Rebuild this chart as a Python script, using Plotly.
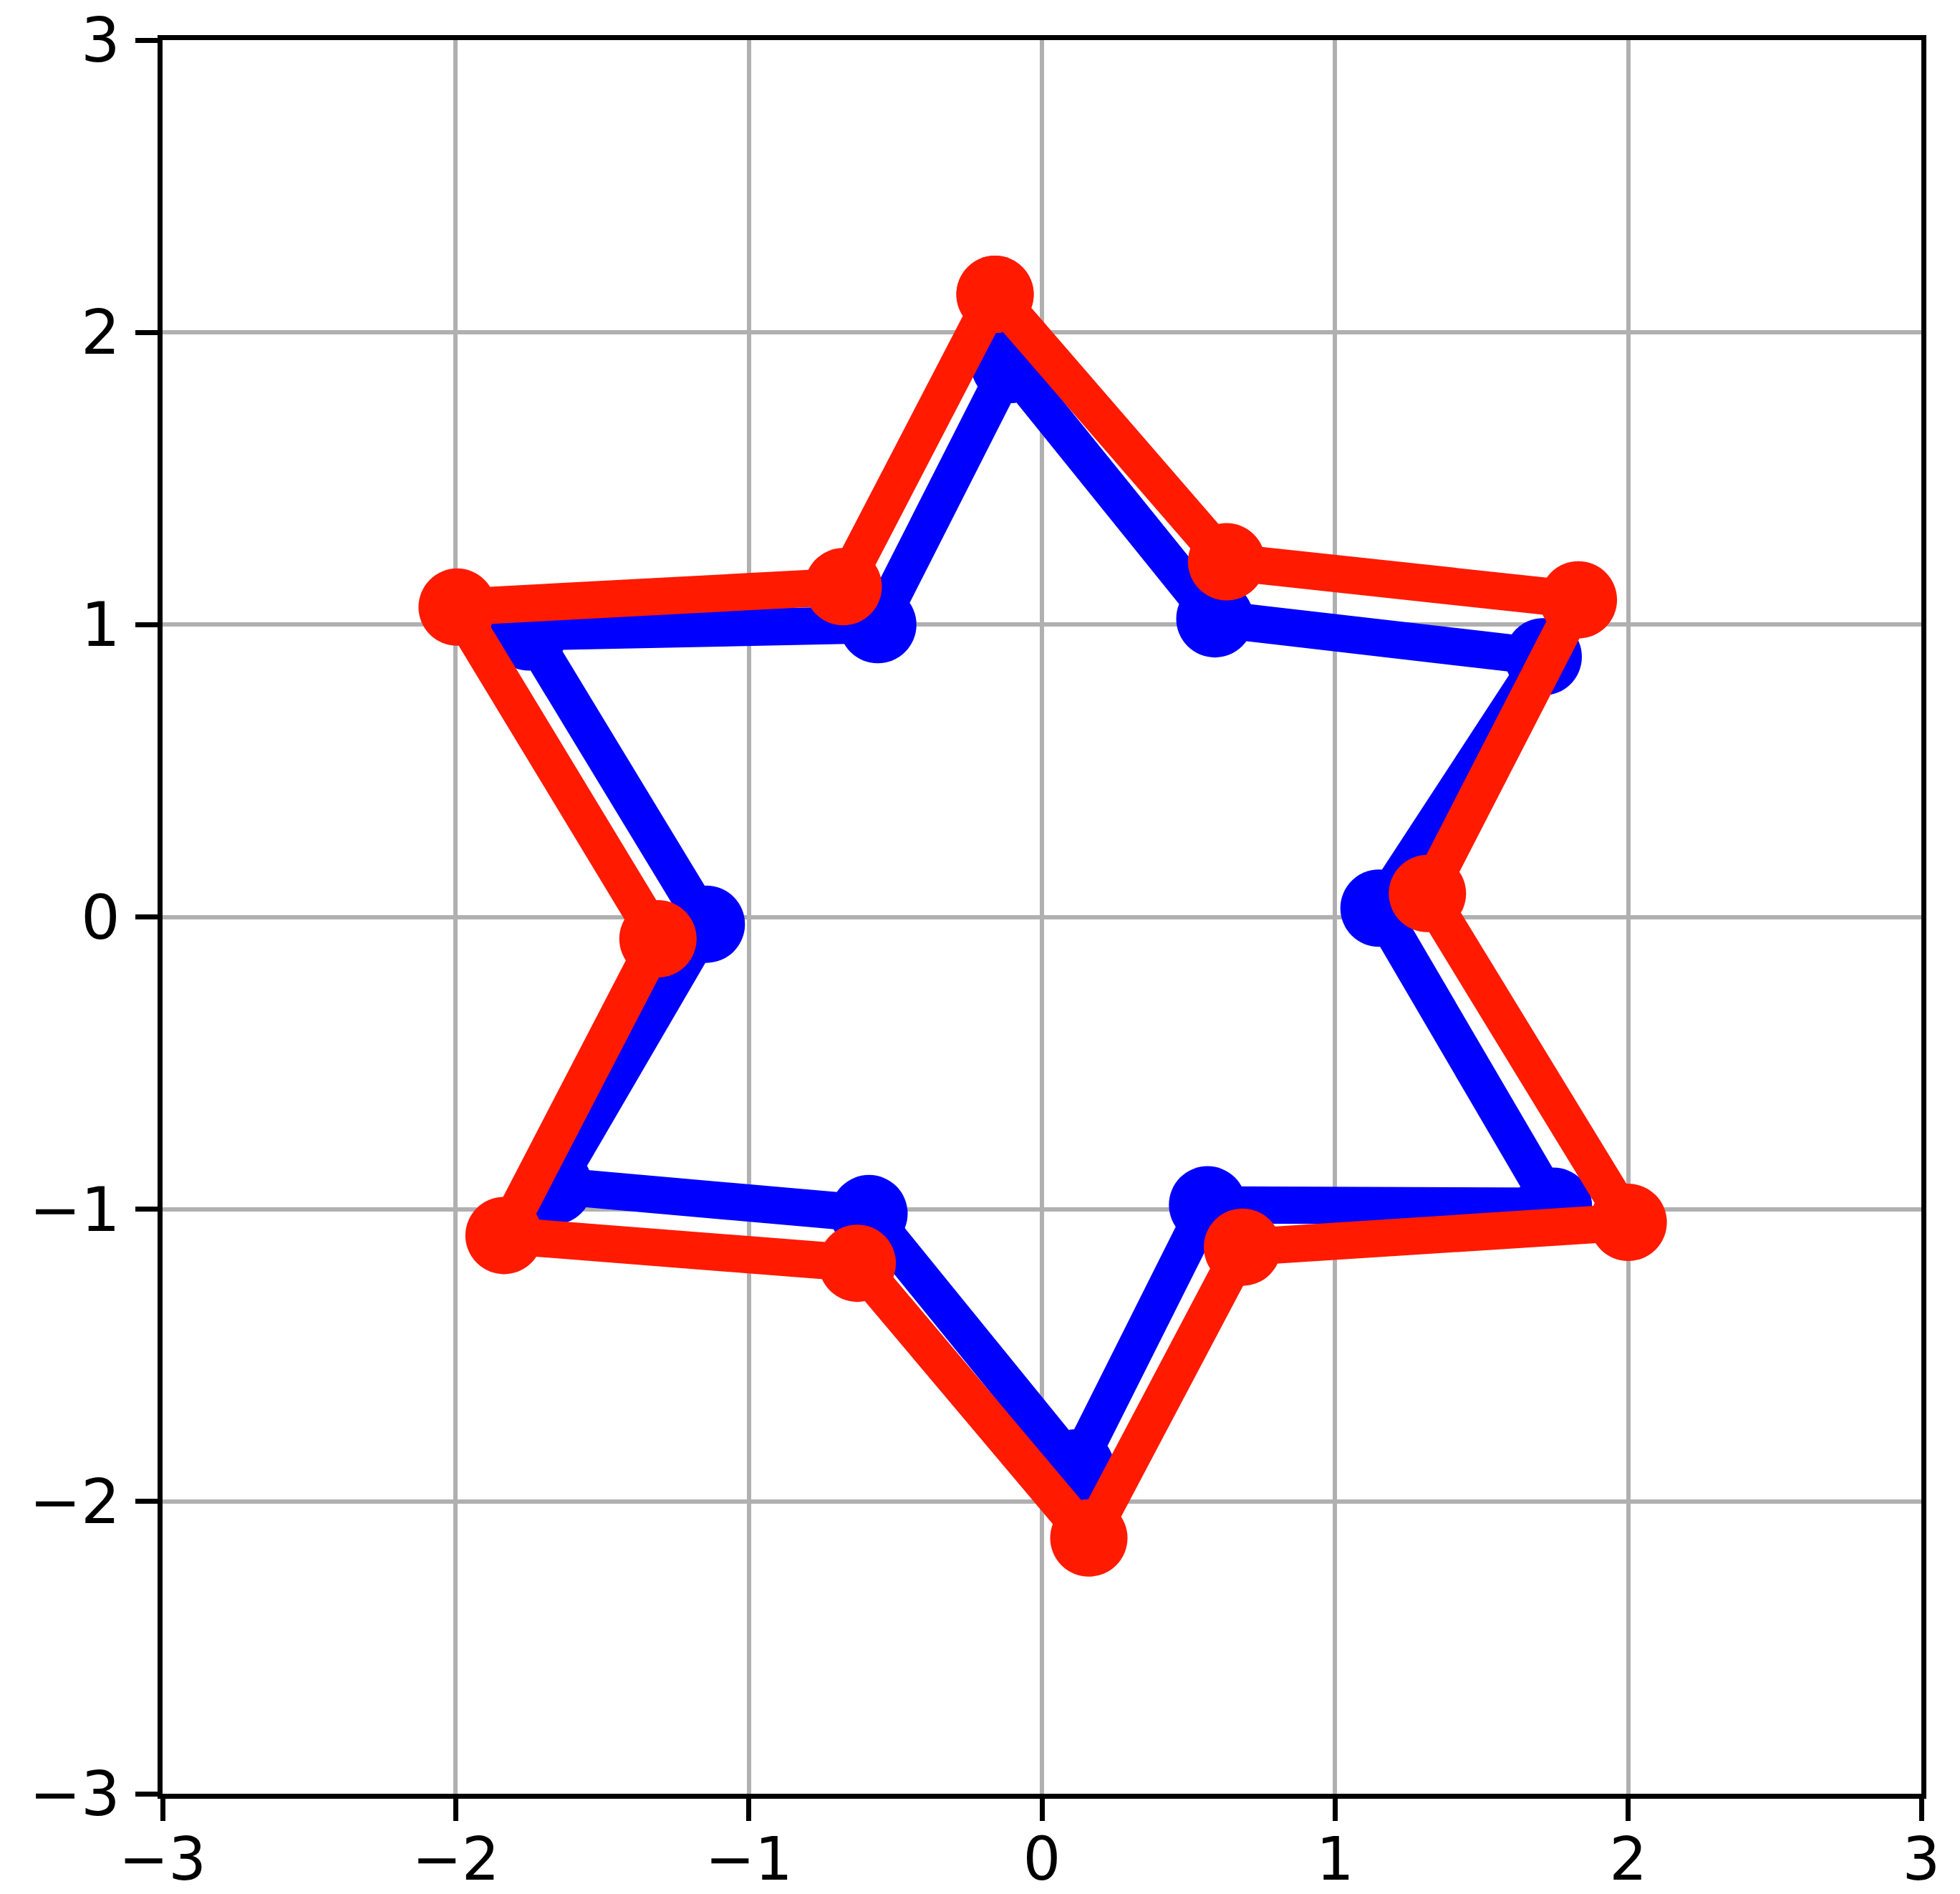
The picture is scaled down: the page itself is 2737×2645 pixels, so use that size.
import plotly.graph_objects as go

# Vertices of the two six-pointed stars (closed polygons)
blue_x = [-0.11, 0.59, 1.71, 1.15, 1.745, 0.565, 0.115, -0.59, -1.665, -1.145, -1.75, -0.56, -0.11]
blue_y = [1.89, 1.02, 0.89, 0.03, -0.99, -0.985, -1.885, -1.015, -0.92, -0.025, 0.975, 1.00, 1.89]

red_x = [-0.16, 0.63, 1.83, 1.315, 2.00, 0.684, 0.16, -0.63, -1.835, -1.31, -1.995, -0.678, -0.16]
red_y = [2.13, 1.215, 1.085, 0.08, -1.045, -1.13, -2.125, -1.185, -1.09, -0.075, 1.06, 1.13, 2.13]

tick_vals = [-3, -2, -1, 0, 1, 2, 3]
tick_text = ["\u22123", "\u22122", "\u22121", "0", "1", "2", "3"]

fig = go.Figure()
fig.add_trace(go.Scatter(
    x=blue_x, y=blue_y, mode="lines+markers",
    line=dict(color="#0000ff", width=52),
    marker=dict(color="#0000ff", size=108),
    showlegend=False,
))
fig.add_trace(go.Scatter(
    x=red_x, y=red_y, mode="lines+markers",
    line=dict(color="#ff1a00", width=52),
    marker=dict(color="#ff1a00", size=108),
    showlegend=False,
))

axis_common = dict(
    range=[-3, 3],
    automargin=False,
    tickmode="array",
    tickvals=tick_vals,
    ticktext=tick_text,
    showgrid=True,
    gridcolor="#b0b0b0",
    gridwidth=6,
    zeroline=False,
    showline=True,
    linecolor="black",
    linewidth=7,
    mirror=True,
    ticks="outside",
    ticklen=31,
    tickwidth=7,
    tickcolor="black",
)

fig.update_layout(
    width=2737,
    height=2645,
    margin=dict(l=227, r=54, t=56, b=140, pad=0),
    paper_bgcolor="white",
    plot_bgcolor="white",
    xaxis=dict(**axis_common, ticklabelstandoff=-18,
               tickfont=dict(family="DejaVu Sans", size=83, color="black")),
    yaxis=dict(**axis_common, ticklabelstandoff=4,
               tickfont=dict(family="DejaVu Sans", size=86, color="black")),
)

fig.write_html("out.html")
